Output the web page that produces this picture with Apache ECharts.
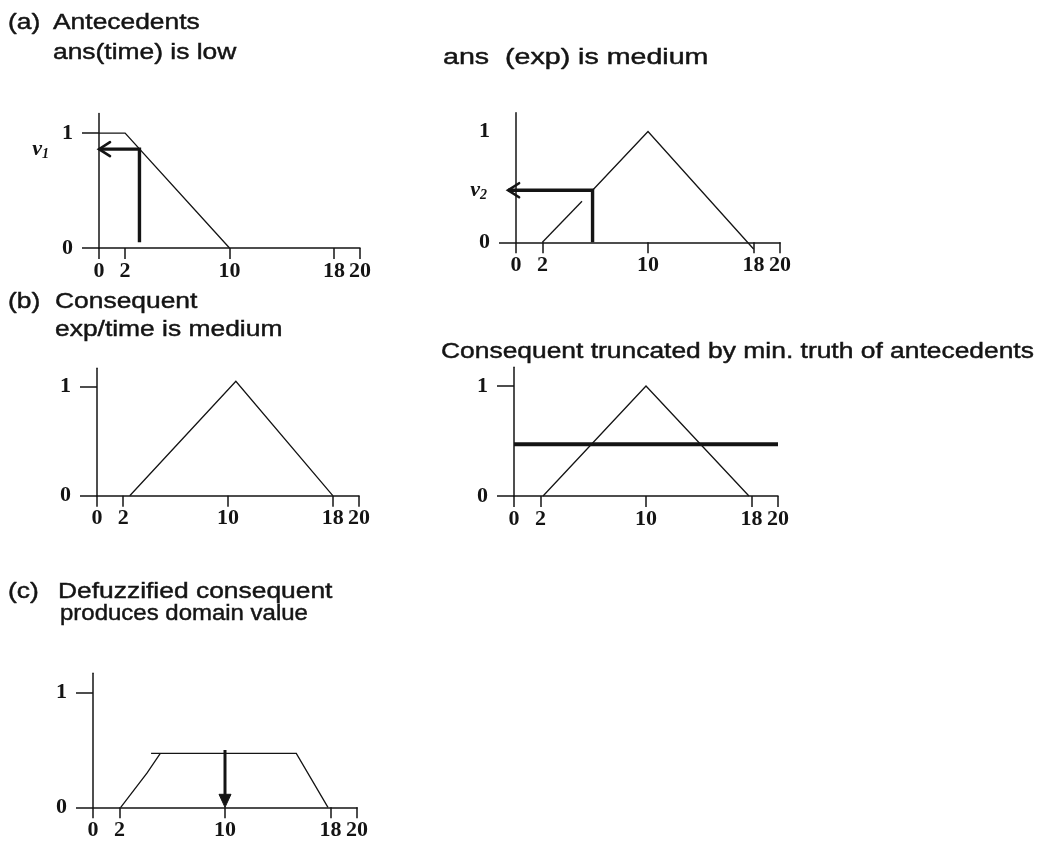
<!DOCTYPE html>
<html>
<head>
<meta charset="utf-8">
<title>Fuzzy inference steps</title>
<script src="https://cdn.jsdelivr.net/npm/echarts@6/dist/echarts.min.js"></script>
<style>
  html, body { margin: 0; padding: 0; background: #ffffff; }
  #chart { width: 1062px; height: 853px; }
</style>
</head>
<body>
<div id="chart"></div>
<script>
// ---- data -------------------------------------------------------------
// domain ticks shared by every panel
const domainTicks = [0, 2, 10, 18, 20];
const truthTicks = [0, 1];

// (a) antecedent membership functions
const timeLow = [[0, 1], [2, 1], [10, 0]];               // ans(time) is low
const expMediumLower = [[2, 0], [5.0, 0.37]];             // ans(exp) is medium, rising part
const expMediumUpper = [[5.8, 0.47], [10, 1], [18, -0.06]];

// crisp inputs and the truth values they produce
const inputTime = 3.1;
const v1 = 0.86;
const inputExp = 5.8;
const v2 = 0.47;

// (b) consequent membership function: exp/time is medium
const consequent = [[2.5, 0], [10.6, 1.05], [18, 0]];
const consequentB2 = [[2.2, 0], [10, 1], [17.8, 0]];
const cut = Math.min(v1, v2);                              // min. truth of antecedents
const truncationLine = [[0, cut], [20, cut]];

// (c) truncated consequent and the defuzzified value
const clippedRise = [[2.1, 0], [4.1, 0.3], [5.1, cut]];
const clippedTop = [[4.4, cut], [15.4, cut], [17.8, 0]];
const crispOutput = 10;

// arrow paths (drawn through the axes' own scales)
const arrowTime = [[inputTime, 0.05], [inputTime, v1], [0, v1]];
const arrowExp = [[inputExp, 0], [inputExp, v2], [-0.6, v2]];
const arrowOut = [[crispOutput, 0.5], [crispOutput, 0]];

// ---- styling ----------------------------------------------------------
const INK = '#141414';
const SERIF = '"Liberation Serif", "Times New Roman", serif';
const SANS = '"Liberation Sans", Arial, Helvetica, sans-serif';

const grids = [
  { left: 99,  top: 113.5, width: 261, height: 134.5 },  // (a) time
  { left: 516, top: 112.7, width: 264, height: 129.6 },  // (a) exp
  { left: 97,  top: 368.2, width: 262, height: 127.5 },  // (b) consequent
  { left: 514, top: 367.3, width: 264, height: 128.7 },  // (b) truncated
  { left: 93,  top: 673.2, width: 264, height: 134.1 }   // (c) defuzzified
];

const numberStyle = { fontFamily: SERIF, fontWeight: 'bold', fontSize: 22, color: INK };

function domainAxis(gridIndex) {
  return {
    type: 'value', gridIndex, min: 0, max: 20,
    axisLine: { show: true, onZero: false, lineStyle: { color: INK, width: 1.5 } },
    axisTick: { show: true, customValues: domainTicks, length: 11, lineStyle: { color: INK, width: 1.5 } },
    axisLabel: Object.assign({ show: true, customValues: domainTicks, margin: 12 }, numberStyle),
    splitLine: { show: false }
  };
}

function truthAxis(gridIndex, tickValues) {
  return {
    type: 'value', gridIndex, min: 0, max: 1.17, position: 'left',
    axisLine: { show: true, onZero: false, lineStyle: { color: INK, width: 1.5 } },
    axisTick: { show: true, customValues: tickValues, length: 17, lineStyle: { color: INK, width: 1.5 } },
    axisLabel: Object.assign({ show: true, customValues: truthTicks, margin: 26 }, numberStyle),
    splitLine: { show: false }
  };
}

// extra, line-less y axis that only labels a truth value (v1, v2)
function markerAxis(gridIndex, value, sub, margin) {
  return {
    type: 'value', gridIndex, min: 0, max: 1.17, position: 'left', offset: 0,
    axisLine: { show: false, onZero: false }, axisTick: { show: false }, splitLine: { show: false },
    axisLabel: {
      show: true, customValues: [value], margin,
      formatter: function () { return '{v|v}{s|' + sub + '}'; },
      rich: {
        v: { fontFamily: SERIF, fontWeight: 'bold', fontStyle: 'italic', fontSize: 22, color: INK, lineHeight: 24 },
        s: { fontFamily: SERIF, fontWeight: 'bold', fontStyle: 'italic', fontSize: 14, color: INK,
             lineHeight: 24, verticalAlign: 'bottom' }
      }
    }
  };
}

function curve(idx, data, width) {
  return {
    type: 'line', xAxisIndex: idx, yAxisIndex: idx, data,
    symbol: 'none', clip: false, silent: true, animation: false,
    lineStyle: { color: INK, width: width || 1.3, cap: 'butt', join: 'miter' }
  };
}

// polyline arrow with an open (chevron) or filled head at the last point
function arrow(idx, path, head, width) {
  return {
    type: 'custom', xAxisIndex: idx, yAxisIndex: idx, data: path,
    clip: false, silent: true, animation: false,
    renderItem: function (params, api) {
      if (params.dataIndexInside !== 0) return null;
      const n = params.dataInsideLength;
      const pts = [];
      for (let i = 0; i < n; i++) pts.push(api.coord([api.value(0, i), api.value(1, i)]));
      const tip = pts[n - 1], prev = pts[n - 2];
      let dx = tip[0] - prev[0], dy = tip[1] - prev[1];
      const len = Math.sqrt(dx * dx + dy * dy) || 1;
      dx /= len; dy /= len;
      const px = -dy, py = dx;
      const L = head === 'filled' ? 13 : 11;
      const W = head === 'filled' ? 6 : 7;
      const base = [tip[0] - dx * L, tip[1] - dy * L];
      const shaft = pts.slice();
      if (head === 'filled') shaft[n - 1] = [tip[0] - dx * (L - 2), tip[1] - dy * (L - 2)];
      const children = [{
        type: 'polyline', shape: { points: shaft },
        style: { stroke: INK, lineWidth: width, fill: null, lineJoin: 'miter', lineCap: 'butt' }
      }];
      const left = [base[0] + px * W, base[1] + py * W];
      const right = [base[0] - px * W, base[1] - py * W];
      if (head === 'filled') {
        children.push({ type: 'polygon', shape: { points: [tip, left, right] }, style: { fill: INK, stroke: INK, lineWidth: 1 } });
      } else {
        children.push({ type: 'polyline', shape: { points: [left, tip, right] },
          style: { stroke: INK, lineWidth: 2.6, fill: null, lineJoin: 'miter', lineCap: 'round' } });
      }
      return { type: 'group', children };
    }
  };
}

// headings
const HEAD_FONT = '22px ' + SANS;
function heading(text, x, y, sx) {
  return {
    type: 'text', x, y, scaleX: sx || 1.2, silent: true,
    style: { text, font: HEAD_FONT, fill: INK, stroke: INK, lineWidth: 0.45,
             align: 'left', verticalAlign: 'middle', textAlign: 'left', textVerticalAlign: 'middle' }
  };
}

const option = {
  backgroundColor: '#ffffff',
  animation: false,
  grid: grids.map(g => Object.assign({ containLabel: false }, g)),
  xAxis: [0, 1, 2, 3, 4].map(domainAxis),
  yAxis: [
    truthAxis(0, [0, 1]),
    truthAxis(1, [0]),
    truthAxis(2, [0, 1]),
    truthAxis(3, [0, 1]),
    truthAxis(4, [0, 1]),
    markerAxis(0, v1, '1', 50),
    markerAxis(1, v2, '2', 29)
  ],
  series: [
    curve(0, timeLow),
    arrow(0, arrowTime, 'open', 3.4),

    curve(1, expMediumLower),
    curve(1, expMediumUpper),
    arrow(1, arrowExp, 'open', 3.4),

    curve(2, consequent),

    curve(3, consequentB2),
    curve(3, truncationLine, 4),

    curve(4, clippedRise),
    curve(4, clippedTop),
    arrow(4, arrowOut, 'filled', 3)
  ],
  graphic: {
    elements: [
      heading('(a)', 8, 23),
      heading('Antecedents', 53, 23),
      heading('ans(time) is low', 53, 53),
      heading('ans  (exp) is medium', 443, 58, 1.3),
      heading('(b)', 8, 302),
      heading('Consequent', 55, 302),
      heading('exp/time is medium', 55, 330),
      heading('Consequent truncated by min. truth of antecedents', 441, 352),
      heading('(c)', 8, 592),
      heading('Defuzzified consequent', 58, 592),
      heading('produces domain value', 60, 614, 1.09)
    ]
  }
};

const chart = echarts.init(document.getElementById('chart'), null, { renderer: 'canvas' });
chart.setOption(option);
</script>
</body>
</html>
